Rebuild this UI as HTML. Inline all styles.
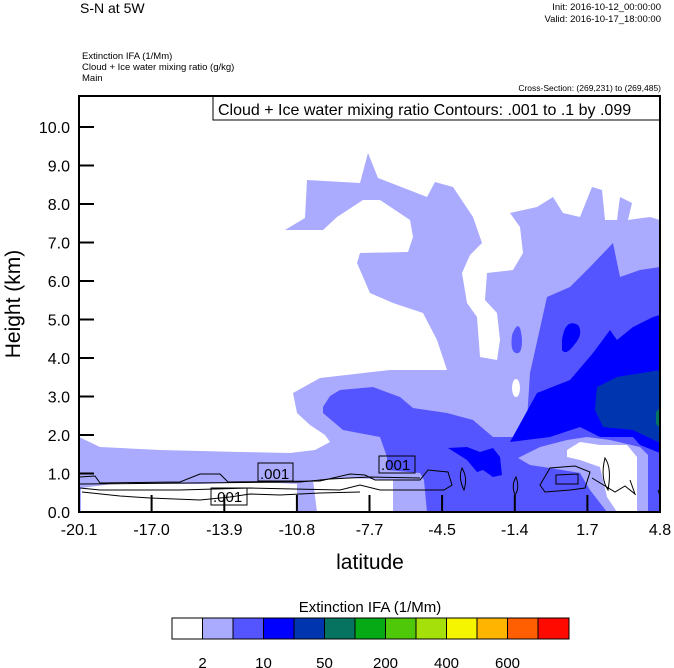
<!DOCTYPE html>
<html><head><meta charset="utf-8"><style>
html,body{margin:0;padding:0;background:#fff;width:674px;height:668px;overflow:hidden}
svg text{font-family:"Liberation Sans",Arial,sans-serif;fill:#000}
</style></head><body>
<svg width="674" height="668" viewBox="0 0 674 668" xmlns="http://www.w3.org/2000/svg">
<defs><clipPath id="pc"><rect x="79" y="96" width="581" height="416"/></clipPath></defs>
<text x="80" y="13" font-size="14">S-N at 5W</text>
<text x="661" y="10" font-size="9.5" text-anchor="end">Init: 2016-10-12_00:00:00</text>
<text x="661" y="22" font-size="9.5" text-anchor="end">Valid: 2016-10-17_18:00:00</text>
<text x="82" y="59" font-size="9.5">Extinction IFA   (1/Mm)</text>
<text x="82" y="70" font-size="9.5">Cloud + Ice water mixing ratio   (g/kg)</text>
<text x="82" y="81" font-size="9.5">Main</text>
<text x="661" y="91" font-size="8.5" text-anchor="end">Cross-Section: (269,231) to (269,485)</text>
<g clip-path="url(#pc)">
<rect x="79" y="96" width="581" height="416" fill="#fff"/>
<!-- light blue -->
<path fill="#aaaaff" d="M79,437 L79,512 L660,512 L660,220 L650,217 L628,220 L632,203 L620,197 L617,220 L605,220 L602,190 L592,187 L580,217 L563,213 L553,197 L537,207 L510,213 L520,227 L523,253 L513,270 L487,273 L485,300 L497,313 L500,340 L497,360 L480,357 L477,317 L467,303 L462,273 L470,255 L482,243 L473,217 L453,187 L435,182 L427,197 L378,178 L368,153 L360,183 L307,180 L305,218 L285,230 L323,230 L337,217 L363,200 L380,200 L410,220 L413,237 L408,252 L360,253 L357,263 L370,293 L393,303 L423,313 L437,340 L447,370 L390,370 L320,378 L293,393 L297,413 L310,425 L325,435 L330,442 L315,450 L290,453 L240,452 L160,450 L100,447 L79,437 Z"/>
<!-- white bottom -->
<path fill="#fff" d="M81,512 L81,488 L120,483 L200,484 L260,482 L297,484 L297,512 Z"/>
<path fill="#fff" d="M317,512 L313,480 L350,478 L393,480 L393,512 Z"/>
<ellipse cx="516" cy="388" rx="4" ry="9" fill="#fff"/>
<!-- medium blue -->
<path fill="#5555ff" d="M323,413 L323,407 L330,396 L340,390 L373,387 L400,397 L413,408 L447,413 L473,420 L493,437 L520,437 L527,420 L530,373 L547,297 L570,287 L590,267 L613,243 L620,277 L640,270 L660,267 L660,512 L427,512 L424,480 L420,473 L387,470 L387,457 L380,437 L343,430 Z"/>
<path fill="#5555ff" d="M512,335 Q520,315 522,340 Q522,355 516,353 Q510,352 512,335 Z"/>
<!-- right-bottom lighter -->
<path fill="#aaaaff" d="M518,458 L540,447 L567,440 L587,437 L610,440 L640,447 L648,455 L648,512 L607,512 L590,490 L580,473 L550,468 L530,465 Z"/>
<path fill="#fff" d="M567,450 L580,442 L600,445 L627,445 L637,457 L637,512 L617,512 L607,497 L600,467 L580,460 L567,457 Z"/>
<!-- blue -->
<path fill="#0000ff" d="M510,442 L537,393 L570,380 L593,353 L610,330 L617,340 L633,327 L653,317 L660,315 L660,453 L640,445 L633,437 L600,437 L580,427 L550,437 Z"/>
<path fill="#0000ff" d="M562,340 Q565,318 578,325 Q584,334 574,345 Q566,356 562,350 Z"/>
<path fill="#0000ff" d="M448,448 L467,447 L480,452 L493,448 L500,457 L502,475 L493,477 L483,470 L477,472 L467,460 Z"/>
<!-- dark blue -->
<path fill="#0035b0" d="M597,387 L617,377 L660,370 L660,443 L633,430 L603,427 L595,410 Z"/>
<path fill="#05735f" d="M656,412 L660,408 L660,428 L656,424 Z"/>
<!-- contours -->
<g fill="none" stroke="#000" stroke-width="1">
<path d="M80,477 L95,476 L100,483 L180,482 L200,474 L220,474 L228,482 L320,481 L350,474 L365,475 L375,480 L420,480 L428,470 L448,472 L452,485 L444,490 L380,490 L360,485 L340,490 L250,488 L180,490 L100,490 L80,488"/>
<path d="M80,484 L300,482 L330,479 L370,477 L420,478"/>
<path d="M82,492 L120,496 L150,498 L200,500 L230,497 L250,494 L280,495 L320,493 L360,492"/>
<path d="M462,468 Q468,478 464,490 Q458,478 462,468 Z"/>
<path d="M516,477 Q520,488 515,495 Q511,485 516,477 Z"/>
<path d="M540,485 L550,468 L575,466 L590,472 L585,488 L570,490 L545,492 Z"/>
<path d="M556,475 L578,474 L578,484 L556,484 Z"/>
<path d="M605,458 Q612,468 608,490 Q600,478 605,458 Z"/>
<path d="M592,478 L615,492 L625,486 L635,494 L630,480"/>
<path d="M658,490 L660,496"/>
</g>
<rect x="258" y="463" width="35" height="18" fill="none" stroke="#000"/>
<rect x="379" y="456" width="36" height="17" fill="none" stroke="#000"/>
<rect x="211" y="488" width="36" height="17" fill="none" stroke="#000"/>
</g>
<text x="260" y="479" font-size="15">.001</text>
<text x="381" y="470" font-size="15">.001</text>
<text x="213" y="502" font-size="15">.001</text>
<rect x="213" y="96" width="447" height="24" fill="#fff" stroke="#000"/>
<text x="218" y="115" font-size="16">Cloud + Ice water mixing ratio Contours: .001 to .1 by .099</text>
<rect x="79" y="96" width="581" height="416" fill="none" stroke="#000" stroke-width="2"/>
<g stroke="#000" stroke-width="2">
<line x1="79" y1="512" x2="94" y2="512"/><line x1="79" y1="473.5" x2="94" y2="473.5"/><line x1="79" y1="435" x2="94" y2="435"/><line x1="79" y1="396.5" x2="94" y2="396.5"/><line x1="79" y1="358" x2="94" y2="358"/><line x1="79" y1="319.5" x2="94" y2="319.5"/><line x1="79" y1="281" x2="94" y2="281"/><line x1="79" y1="242.5" x2="94" y2="242.5"/><line x1="79" y1="204" x2="94" y2="204"/><line x1="79" y1="165.5" x2="94" y2="165.5"/><line x1="79" y1="127" x2="94" y2="127"/>
<line x1="151.6" y1="512" x2="151.6" y2="495"/><line x1="224.3" y1="512" x2="224.3" y2="495"/><line x1="296.9" y1="512" x2="296.9" y2="495"/><line x1="369.5" y1="512" x2="369.5" y2="495"/><line x1="442.1" y1="512" x2="442.1" y2="495"/><line x1="514.8" y1="512" x2="514.8" y2="495"/><line x1="587.4" y1="512" x2="587.4" y2="495"/>
</g>
<g font-size="16" text-anchor="end">
<text x="70" y="518">0.0</text><text x="70" y="479.5">1.0</text><text x="70" y="441">2.0</text><text x="70" y="402.5">3.0</text><text x="70" y="364">4.0</text><text x="70" y="325.5">5.0</text><text x="70" y="287">6.0</text><text x="70" y="248.5">7.0</text><text x="70" y="210">8.0</text><text x="70" y="171.5">9.0</text><text x="70" y="133">10.0</text>
</g>
<g font-size="16" text-anchor="middle">
<text x="79" y="535">-20.1</text><text x="151.6" y="535">-17.0</text><text x="224.3" y="535">-13.9</text><text x="296.9" y="535">-10.8</text><text x="369.5" y="535">-7.7</text><text x="442.1" y="535">-4.5</text><text x="514.8" y="535">-1.4</text><text x="587.4" y="535">1.7</text><text x="660" y="535">4.8</text>
</g>
<text x="370" y="569" font-size="21" text-anchor="middle">latitude</text>
<text transform="translate(20,304) rotate(-90)" font-size="21" text-anchor="middle">Height (km)</text>
<text x="370" y="612" font-size="15" text-anchor="middle">Extinction IFA  (1/Mm)</text>
<g stroke="#000" stroke-width="1">
<rect x="172" y="618" width="30.5" height="21" fill="#fff"/>
<rect x="202.5" y="618" width="30.5" height="21" fill="#aaaaff"/>
<rect x="233" y="618" width="30.5" height="21" fill="#5555ff"/>
<rect x="263.5" y="618" width="30.5" height="21" fill="#0000ff"/>
<rect x="294" y="618" width="30.5" height="21" fill="#0035b0"/>
<rect x="324.5" y="618" width="30.5" height="21" fill="#05735f"/>
<rect x="355" y="618" width="30.5" height="21" fill="#05aa15"/>
<rect x="385.5" y="618" width="30.5" height="21" fill="#50c80a"/>
<rect x="416" y="618" width="30.5" height="21" fill="#a5e00a"/>
<rect x="446.5" y="618" width="30.5" height="21" fill="#f5f500"/>
<rect x="477" y="618" width="30.5" height="21" fill="#ffb400"/>
<rect x="507.5" y="618" width="30.5" height="21" fill="#ff5f00"/>
<rect x="538" y="618" width="31" height="21" fill="#ff0a00"/>
</g>
<g font-size="15" text-anchor="middle">
<text x="202.5" y="668">2</text><text x="263.5" y="668">10</text><text x="324.5" y="668">50</text><text x="385.5" y="668">200</text><text x="446.5" y="668">400</text><text x="507.5" y="668">600</text>
</g>
</svg>
</body></html>
